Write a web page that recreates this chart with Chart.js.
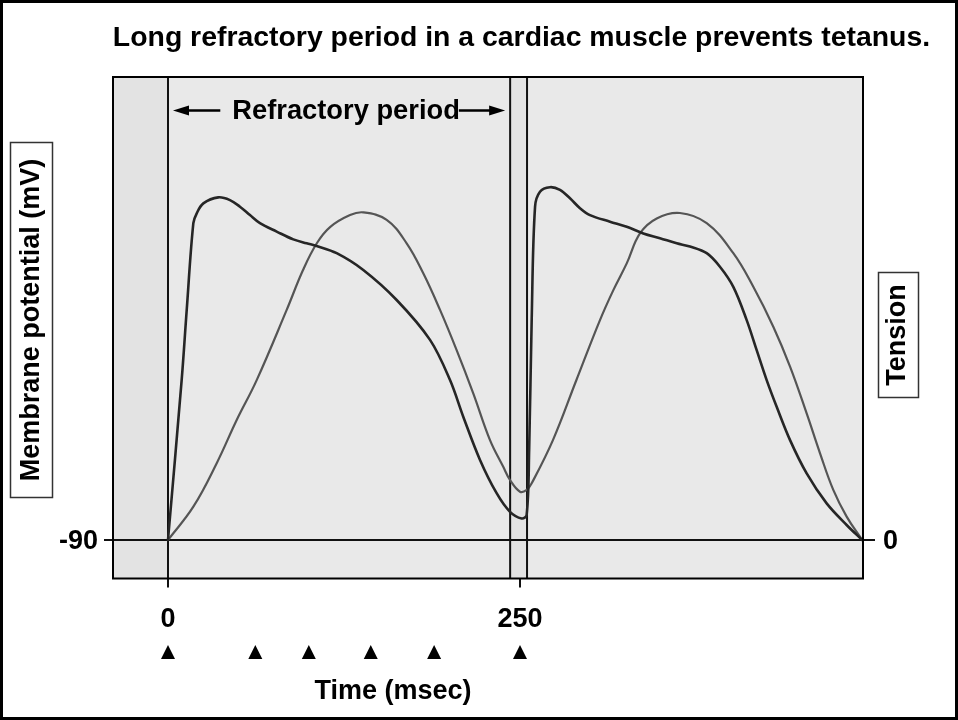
<!DOCTYPE html>
<html><head><meta charset="utf-8">
<script src="https://cdn.jsdelivr.net/npm/chart.js@4"></script>
<style>html,body{margin:0;padding:0;background:#fff;}canvas{display:block;}</style>
</head><body>
<canvas id="c" width="958" height="720"></canvas>
<script>
// ---- data (time in msec) ----
const apTime = [0, 9.7, 13.3, 18.0, 20.4, 25.1, 35.7, 44.0, 51.1, 58.2, 65.3, 77.2, 89.0, 98.5, 105.6, 119.8, 138.7, 162.4, 186.1, 200.3, 209.7, 221.6, 233.4, 242.9, 251.2, 254.7, 256.5, 258.3, 260.7, 264.2, 271.3, 278.4, 285.5, 292.6, 299.7, 313.9, 325.8, 337.6, 349.4, 361.3, 370.7, 382.6, 392.0, 401.5, 411.0, 418.1, 425.2, 432.3, 441.8, 453.6, 467.8, 482.0, 493.0];
const apMillivolts = [-90, -36.7, -13.3, 15.6, 18.9, 22.2, 24.2, 23.3, 21.1, 18.3, 15.6, 12.8, 10.2, 8.9, 8.0, 5.6, 0, -10, -23.3, -36.7, -48.9, -63.3, -74.4, -80.6, -82.8, -81.7, -60, -16.7, 21.1, 26.1, 27.6, 26.7, 23.9, 20.6, 18.3, 16.1, 14.4, 12.2, 10.6, 8.9, 7.8, 5.6, 1.1, -5.6, -16.7, -26.7, -36.7, -45.6, -56.7, -67.8, -77.8, -85, -90];
const tensionTime = [0, 18, 34.6, 48.8, 63, 84.3, 95.9, 105.8, 115.1, 129.3, 138.7, 155.3, 169.5, 181.3, 193.2, 205, 216.8, 228.7, 238.1, 242.9, 250, 254.8, 258.3, 273.4, 289.8, 306.8, 316.3, 325.8, 335.2, 347.1, 363.6, 382.6, 401.5, 415.7, 429.9, 441.8, 453.6, 463.1, 472.5, 482, 493];
const tensionValue = [0, 11.1, 25.6, 40, 53.3, 76.7, 90, 99, 104.3, 108.3, 109.2, 106.7, 98.9, 88.9, 76.7, 63.3, 48.9, 33.3, 24.4, 20, 16.1, 16.7, 18.9, 33.3, 53, 73.3, 83.3, 92.2, 102.2, 107.2, 109, 105.6, 95.6, 84.4, 71.1, 57.8, 42.2, 28.9, 16.7, 7.8, 0];
const timeTickValues = [0, 250];
const timeTickLabels = ['0', '250'];
const stimulusTimes = [0, 62, 100, 144, 189, 250];
const refractoryBounds = [0, 243];
const secondStimulusTime = 255;
const potentialTickValues = [-90];
const potentialTickLabels = ['-90'];
const tensionTickValues = [0];
const tensionTickLabels = ['0'];
const titleText = 'Long refractory period in a cardiac muscle prevents tetanus.';
const refractoryText = 'Refractory period';
const xAxisTitle = 'Time (msec)';
const leftAxisTitle = 'Membrane potential (mV)';
const rightAxisTitle = 'Tension';

const FONT = '"Liberation Sans", Arial, Helvetica, sans-serif';
const f = (s) => `bold ${s}px ${FONT}`;

const deco = {
  id: 'deco',
  beforeDraw(chart) {
    const { ctx, chartArea: a, scales } = chart;
    const x = scales.x;
    ctx.save();
    ctx.fillStyle = '#fff';
    ctx.fillRect(0, 0, chart.width, chart.height);
    ctx.fillStyle = '#e9e9e9';
    ctx.fillRect(a.left, a.top, a.right - a.left, a.bottom - a.top);
    ctx.fillStyle = '#e3e3e3';
    const x0 = x.getPixelForValue(refractoryBounds[0]);
    ctx.fillRect(a.left, a.top, x0 - a.left, a.bottom - a.top);
    const xr = x.getPixelForValue(refractoryBounds[1]);
    const xs = x.getPixelForValue(secondStimulusTime);
    ctx.fillRect(xr, a.top, xs - xr, a.bottom - a.top);
    ctx.strokeStyle = '#000';
    ctx.lineWidth = 3;
    ctx.strokeRect(1.5, 1.5, chart.width - 3, chart.height - 3);
    ctx.restore();
  },
  beforeDatasetsDraw(chart) {
    const { ctx, chartArea: a, scales } = chart;
    const x = scales.x, yA = scales.yAP;
    ctx.save();
    ctx.strokeStyle = '#111';
    ctx.lineWidth = 2;
    const yb = yA.getPixelForValue(potentialTickValues[0]);
    ctx.beginPath();
    ctx.moveTo(a.left - 9, yb); ctx.lineTo(a.right + 12, yb);
    ctx.stroke();
    const x0 = x.getPixelForValue(refractoryBounds[0]);
    const xr = x.getPixelForValue(refractoryBounds[1]);
    const xs = x.getPixelForValue(secondStimulusTime);
    ctx.beginPath();
    ctx.moveTo(x0, a.top); ctx.lineTo(x0, a.bottom + 9);
    ctx.moveTo(xr, a.top); ctx.lineTo(xr, a.bottom);
    ctx.moveTo(xs, a.top); ctx.lineTo(xs, a.bottom);
    timeTickValues.forEach(v => {
      const px = x.getPixelForValue(v);
      ctx.moveTo(px, a.bottom); ctx.lineTo(px, a.bottom + 9);
    });
    ctx.stroke();
    ctx.restore();
  },
  afterDatasetsDraw(chart) {
    const { ctx, chartArea: a, scales } = chart;
    const x = scales.x, yA = scales.yAP, yT = scales.yT;
    ctx.save();
    ctx.strokeStyle = '#000';
    ctx.lineWidth = 2;
    ctx.strokeRect(a.left, a.top, a.right - a.left, a.bottom - a.top);

    ctx.fillStyle = '#000';
    ctx.font = f(28.4);
    ctx.textAlign = 'center';
    ctx.textBaseline = 'alphabetic';
    ctx.fillText(titleText, 521.5, 46);

    const x0 = x.getPixelForValue(refractoryBounds[0]);
    const xr = x.getPixelForValue(refractoryBounds[1]);
    const ay = 110.5;
    ctx.font = f(27.3);
    const tw = ctx.measureText(refractoryText).width;
    const tx = (x0 + xr) / 2 + 7;
    ctx.fillText(refractoryText, tx, 119);
    ctx.lineWidth = 2.5;
    ctx.beginPath();
    ctx.moveTo(x0 + 18, ay); ctx.lineTo(tx - tw / 2 - 12, ay);
    ctx.moveTo(tx + tw / 2 - 1, ay); ctx.lineTo(xr - 18, ay);
    ctx.stroke();
    ctx.beginPath();
    ctx.moveTo(x0 + 5, ay); ctx.lineTo(x0 + 21, ay - 5); ctx.lineTo(x0 + 21, ay + 5); ctx.closePath();
    ctx.moveTo(xr - 5, ay); ctx.lineTo(xr - 21, ay - 5); ctx.lineTo(xr - 21, ay + 5); ctx.closePath();
    ctx.fill();

    ctx.font = f(27);
    ctx.textAlign = 'right';
    potentialTickValues.forEach((v, i) => {
      ctx.fillText(potentialTickLabels[i], a.left - 15, yA.getPixelForValue(v) + 9);
    });
    ctx.textAlign = 'left';
    tensionTickValues.forEach((v, i) => {
      ctx.fillText(tensionTickLabels[i], a.right + 20, yT.getPixelForValue(v) + 9);
    });

    ctx.textAlign = 'center';
    timeTickValues.forEach((v, i) => {
      ctx.fillText(timeTickLabels[i], x.getPixelForValue(v), 627);
    });
    stimulusTimes.forEach(v => {
      const px = x.getPixelForValue(v);
      ctx.beginPath();
      ctx.moveTo(px, 645); ctx.lineTo(px + 7, 659); ctx.lineTo(px - 7, 659); ctx.closePath();
      ctx.fill();
    });
    ctx.fillText(xAxisTitle, 393, 699);

    ctx.strokeStyle = '#333';
    ctx.lineWidth = 1.5;
    ctx.strokeRect(10.5, 142.5, 42, 355);
    ctx.strokeRect(878.5, 272.5, 40, 125);
    const rot = (text, cx, cy) => {
      ctx.save();
      ctx.translate(cx, cy);
      ctx.rotate(-Math.PI / 2);
      ctx.textAlign = 'center';
      ctx.textBaseline = 'middle';
      ctx.fillText(text, 0, 0);
      ctx.restore();
    };
    rot(leftAxisTitle, 32, 320);
    rot(rightAxisTitle, 898, 335);
    ctx.restore();
  }
};

new Chart(document.getElementById('c'), {
  type: 'line',
  data: {
    datasets: [
      {
        label: 'Membrane potential (mV)',
        data: apTime.map((t, i) => ({ x: t, y: apMillivolts[i] })),
        yAxisID: 'yAP',
        borderColor: '#262626',
        borderWidth: 2.6,
        pointRadius: 0,
        fill: false,
        tension: 0.35,
        borderJoinStyle: 'round',
        borderCapStyle: 'round'
      },
      {
        label: 'Tension',
        data: tensionTime.map((t, i) => ({ x: t, y: tensionValue[i] })),
        yAxisID: 'yT',
        borderColor: '#555555',
        borderWidth: 2.2,
        pointRadius: 0,
        fill: false,
        tension: 0.4,
        borderJoinStyle: 'round',
        borderCapStyle: 'round'
      }
    ]
  },
  options: {
    responsive: false,
    animation: false,
    devicePixelRatio: 1,
    layout: { padding: { left: 113, top: 77, right: 95, bottom: 141.5 } },
    plugins: { legend: { display: false }, tooltip: { enabled: false } },
    scales: {
      x: { type: 'linear', display: false, min: -39.06, max: 493.61 },
      yAP: { type: 'linear', display: false, position: 'left', min: -102.83, max: 64.33 },
      yT: { type: 'linear', display: false, position: 'right', min: -12.83, max: 154.33 }
    }
  },
  plugins: [deco]
});
</script>
</body></html>
